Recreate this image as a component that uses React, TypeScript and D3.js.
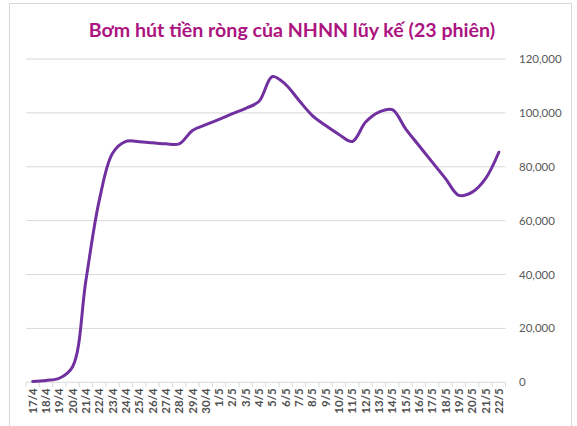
import React from "react";
import * as d3 from "d3";

const categories = [
  "17/4","18/4","19/4","20/4","21/4","22/4","23/4","24/4","25/4","26/4","27/4","28/4","29/4","30/4",
  "1/5","2/5","3/5","4/5","5/5","6/5","7/5","8/5","9/5","10/5","11/5","12/5","13/5","14/5","15/5",
  "16/5","17/5","18/5","19/5","20/5","21/5","22/5",
];
const values = [
  300, 700, 1500, 5800, 37900, 67500, 85000, 89400, 89300, 88900, 88500, 88500, 93500, 95600,
  97600, 99700, 101700, 104300, 113500, 110500, 104600, 99000, 95300, 92000, 89400, 96600, 100300,
  101200, 94100, 87900, 81700, 75600, 69400, 70600, 75600, 85400,
];
const yTicks = [0, 20000, 40000, 60000, 80000, 100000, 120000];
const title = "Bơm hút tiền ròng của NHNN lũy kế (23 phiên)";

export default function App() {
  const W = 577, H = 426;
  const left = 26, right = 505.5, top = 59, bottom = 382.3;
  const x = d3.scaleBand<string>().domain(categories).range([left, right]).padding(0);
  const y = d3.scaleLinear().domain([0, 120000]).range([bottom, top]);
  const fmt = d3.format(",");
  const line = d3
    .line<number>()
    .x((_, i) => (x(categories[i]) as number) + x.bandwidth() / 2)
    .y((d) => y(d))
    .curve(d3.curveCatmullRom.alpha(0.5));
  const tickXs = categories.map((c) => x(c) as number).concat([right]);
  return (
    <svg width={W} height={H} style={{ position: "absolute", left: 0, top: 0 }}>
      <rect x={0} y={0} width={W} height={H} fill="#fff" />
      <rect x={9.5} y={3.5} width={562} height={440} fill="#fff" stroke="#d9d9d9" strokeWidth={1} />
      <text
        x={292}
        y={37}
        textAnchor="middle"
        fontFamily="Lato, 'Open Sans', sans-serif"
        fontWeight="bold"
        fontSize={19.6}
        fill="#ac147f"
      >
        {title}
      </text>
      {yTicks.map((t) => (
        <g key={t}>
          {t > 0 && (
            <line x1={left} x2={right} y1={y(t)} y2={y(t)} stroke="#d9d9d9" strokeWidth={1} />
          )}
          <text
            x={519}
            y={y(t)}
            dy="0.35em"
            fontFamily="Lato, 'Open Sans', sans-serif"
            fontSize={11.5}
            fill="#595959"
          >
            {fmt(t)}
          </text>
        </g>
      ))}
      <line x1={left} x2={right} y1={bottom} y2={bottom} stroke="#d9d9d9" strokeWidth={1} />
      {tickXs.map((tx, i) => (
        <line key={i} x1={tx} x2={tx} y1={bottom} y2={bottom + 5} stroke="#d9d9d9" strokeWidth={1} />
      ))}
      {categories.map((c) => {
        const cx = (x(c) as number) + x.bandwidth() / 2;
        return (
          <text
            key={c}
            transform={`translate(${cx},${bottom + 6}) rotate(-90)`}
            textAnchor="end"
            dy="0.35em"
            fontFamily="Lato, 'Open Sans', sans-serif"
            fontWeight="bold"
            fontSize={11.5}
            fill="#505050"
          >
            {c}
          </text>
        );
      })}
      <path d={line(values) || ""} fill="none" stroke="#7030a0" strokeWidth={3} strokeLinecap="round" />
    </svg>
  );
}
